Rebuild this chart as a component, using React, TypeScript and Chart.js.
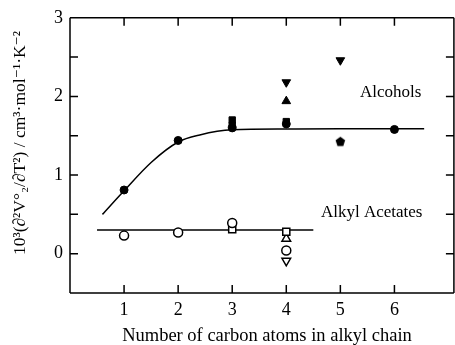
import React, { useEffect, useRef } from 'react';
import { Chart, registerables } from 'chart.js';
Chart.register(...registerables);

// ---- data ----
const xTickValues = [1, 2, 3, 4, 5, 6];
const yMajorTicks = [0, 1, 2, 3];
const yMinorTicks = [0.5, 1.5, 2.5];
const xTitle = 'Number of carbon atoms in alkyl chain';
const yTitle = '10³(∂²V°₂/∂T²) / cm³·mol⁻¹·K⁻²';
const xFrameRight = 7.1;

// Alcohols (filled markers)
const alcCircleX = [1, 2, 3, 4, 6];
const alcCircleY = [0.81, 1.44, 1.6, 1.65, 1.58];
const alcSquareX = [3, 3, 4];
const alcSquareY = [1.63, 1.7, 1.68];
const alcUpTriX = [4];
const alcUpTriY = [1.94];
const alcDownTriX = [4, 5];
const alcDownTriY = [2.18, 2.46];
const alcPentX = [5];
const alcPentY = [1.43];
// Alkyl acetates (open markers)
const acCircleX = [1, 2, 3, 4];
const acCircleY = [0.23, 0.27, 0.39, 0.04];
const acSquareX = [3, 4];
const acSquareY = [0.31, 0.28];
const acUpTriX = [4];
const acUpTriY = [0.19];
const acDownTriX = [4];
const acDownTriY = [-0.09];
// fitted curves
const alcCurveX = [0.6, 1, 1.5, 2, 2.4, 3, 4, 5, 6, 6.55];
const alcCurveY = [0.5, 0.8, 1.16, 1.42, 1.51, 1.575, 1.585, 1.588, 1.59, 1.59];
const acLineX = [0.5, 4.5];
const acLineY = [0.3, 0.3];

const labels = [
  { text: 'Alcohols', x: 5.93, y: 2.05 },
  { text: 'Alkyl Acetates', x: 5.58, y: 0.52 },
];

const FONT = "'Liberation Serif', 'DejaVu Serif', serif";

const pts = (xs: number[], ys: number[]) => xs.map((x, i) => ({ x, y: ys[i] }));

function makePentagon(size: number): HTMLCanvasElement {
  const c = document.createElement('canvas');
  c.width = size;
  c.height = size;
  const g = c.getContext('2d')!;
  const r = size / 2 - 0.5;
  g.beginPath();
  for (let i = 0; i < 5; i++) {
    const a = -Math.PI / 2 + (i * 2 * Math.PI) / 5;
    const px = size / 2 + r * Math.cos(a);
    const py = size / 2 + 0.6 + r * Math.sin(a);
    if (i === 0) g.moveTo(px, py);
    else g.lineTo(px, py);
  }
  g.closePath();
  g.fillStyle = '#000';
  g.fill();
  return c;
}

const framePlugin = {
  id: 'frame',
  afterDraw(chart: any) {
    const { ctx, chartArea, scales } = chart;
    const { left, top, bottom } = chartArea;
    const x = scales.x;
    const y = scales.y;
    const right = x.getPixelForValue(xFrameRight);
    ctx.save();
    ctx.strokeStyle = '#000';
    ctx.lineWidth = 1.5;
    ctx.beginPath();
    ctx.moveTo(left, top);
    ctx.lineTo(right, top);
    ctx.moveTo(left, bottom);
    ctx.lineTo(right, bottom);
    ctx.moveTo(left, top);
    ctx.lineTo(left, bottom);
    ctx.moveTo(right, top);
    ctx.lineTo(right, bottom);
    const tl = 8;
    xTickValues.forEach((v) => {
      const px = x.getPixelForValue(v);
      ctx.moveTo(px, top);
      ctx.lineTo(px, top + tl);
      ctx.moveTo(px, bottom);
      ctx.lineTo(px, bottom - tl);
    });
    [...yMajorTicks, ...yMinorTicks].forEach((v) => {
      const py = y.getPixelForValue(v);
      ctx.moveTo(left, py);
      ctx.lineTo(left + tl, py);
      ctx.moveTo(right, py);
      ctx.lineTo(right - tl, py);
    });
    ctx.stroke();
    ctx.fillStyle = '#000';
    ctx.font = `17px ${FONT}`;
    ctx.textBaseline = 'middle';
    ctx.textAlign = 'center';
    labels.forEach((l) => {
      ctx.fillText(l.text, x.getPixelForValue(l.x), y.getPixelForValue(l.y));
    });
    // axis titles
    ctx.font = `18.5px ${FONT}`;
    ctx.fillText(xTitle, 267, 336);
    ctx.save();
    ctx.translate(20, 143);
    ctx.rotate(-Math.PI / 2);
    ctx.font = `17.5px ${FONT}`;
    ctx.fillText(yTitle, 0, 0);
    ctx.restore();
    ctx.restore();
  },
};

export default function App() {
  const ref = useRef<HTMLCanvasElement>(null);
  useEffect(() => {
    if (!ref.current) return;
    const pent = makePentagon(11);
    const filled = { backgroundColor: '#000', borderColor: '#000', borderWidth: 1 };
    const open = { backgroundColor: '#fff', borderColor: '#000', borderWidth: 1.5 };
    const chart = new Chart(ref.current, {
      type: 'scatter',
      data: {
        datasets: [
          { data: pts(alcCircleX, alcCircleY), pointStyle: 'circle', pointRadius: 4, ...filled, order: 0 },
          { data: pts(alcSquareX, alcSquareY), pointStyle: 'rect', pointRadius: 4.5, ...filled, order: 0 },
          { data: pts(alcUpTriX, alcUpTriY), pointStyle: 'triangle', pointRadius: 5, ...filled, order: 0 },
          { data: pts(alcDownTriX, alcDownTriY), pointStyle: 'triangle', rotation: 180, pointRadius: 5, ...filled, order: 0 },
          { data: pts(alcPentX, alcPentY), pointStyle: pent as any, ...filled, order: 0 },
          { data: pts(acCircleX, acCircleY), pointStyle: 'circle', pointRadius: 4.5, ...open, order: 0 },
          { data: pts(acSquareX, acSquareY), pointStyle: 'rect', pointRadius: 5, ...open, order: 0 },
          { data: pts(acUpTriX, acUpTriY), pointStyle: 'triangle', pointRadius: 5, ...open, order: 0 },
          { data: pts(acDownTriX, acDownTriY), pointStyle: 'triangle', rotation: 180, pointRadius: 5, ...open, order: 0 },
          {
            data: pts(alcCurveX, alcCurveY),
            showLine: true,
            pointRadius: 0,
            borderColor: '#000',
            borderWidth: 1.5,
            cubicInterpolationMode: 'monotone',
            order: 10,
          } as any,
          {
            data: pts(acLineX, acLineY),
            showLine: true,
            pointRadius: 0,
            borderColor: '#000',
            borderWidth: 1.5,
            order: 10,
          },
        ],
      },
      options: {
        animation: false,
        responsive: false,
        layout: { padding: { top: 17, left: 0, right: 0, bottom: 0 } },
        plugins: { legend: { display: false }, tooltip: { enabled: false } },
        scales: {
          x: {
            type: 'linear',
            min: 0,
            max: 7,
            grid: { display: false, drawTicks: false },
            border: { display: false },
            afterBuildTicks: (s: any) => {
              s.ticks = xTickValues.map((v) => ({ value: v }));
            },
            afterFit: (s: any) => {
              s.height = 52;
            },
            ticks: {
              color: '#000',
              font: { family: FONT, size: 18 },
              padding: 6,
              maxRotation: 0,
              callback: (v: any) => String(v),
            },
            title: { display: false },
          },
          y: {
            type: 'linear',
            min: -0.5,
            max: 3,
            grid: { display: false, drawTicks: false },
            border: { display: false },
            afterBuildTicks: (s: any) => {
              s.ticks = yMajorTicks.map((v) => ({ value: v }));
            },
            afterFit: (s: any) => {
              s.width = 70;
            },
            ticks: {
              color: '#000',
              font: { family: FONT, size: 18 },
              padding: 7,
              callback: (v: any) => String(v),
            },
            title: { display: false },
          },
        },
      },
      plugins: [framePlugin],
    });
    return () => chart.destroy();
  }, []);
  return (
    <div style={{ position: 'fixed', left: 0, top: 0, width: 455, height: 345, overflow: 'hidden', background: '#fff' }}>
      <canvas ref={ref} width={455} height={345} style={{ display: 'block', width: 455, height: 345 }} />
    </div>
  );
}
